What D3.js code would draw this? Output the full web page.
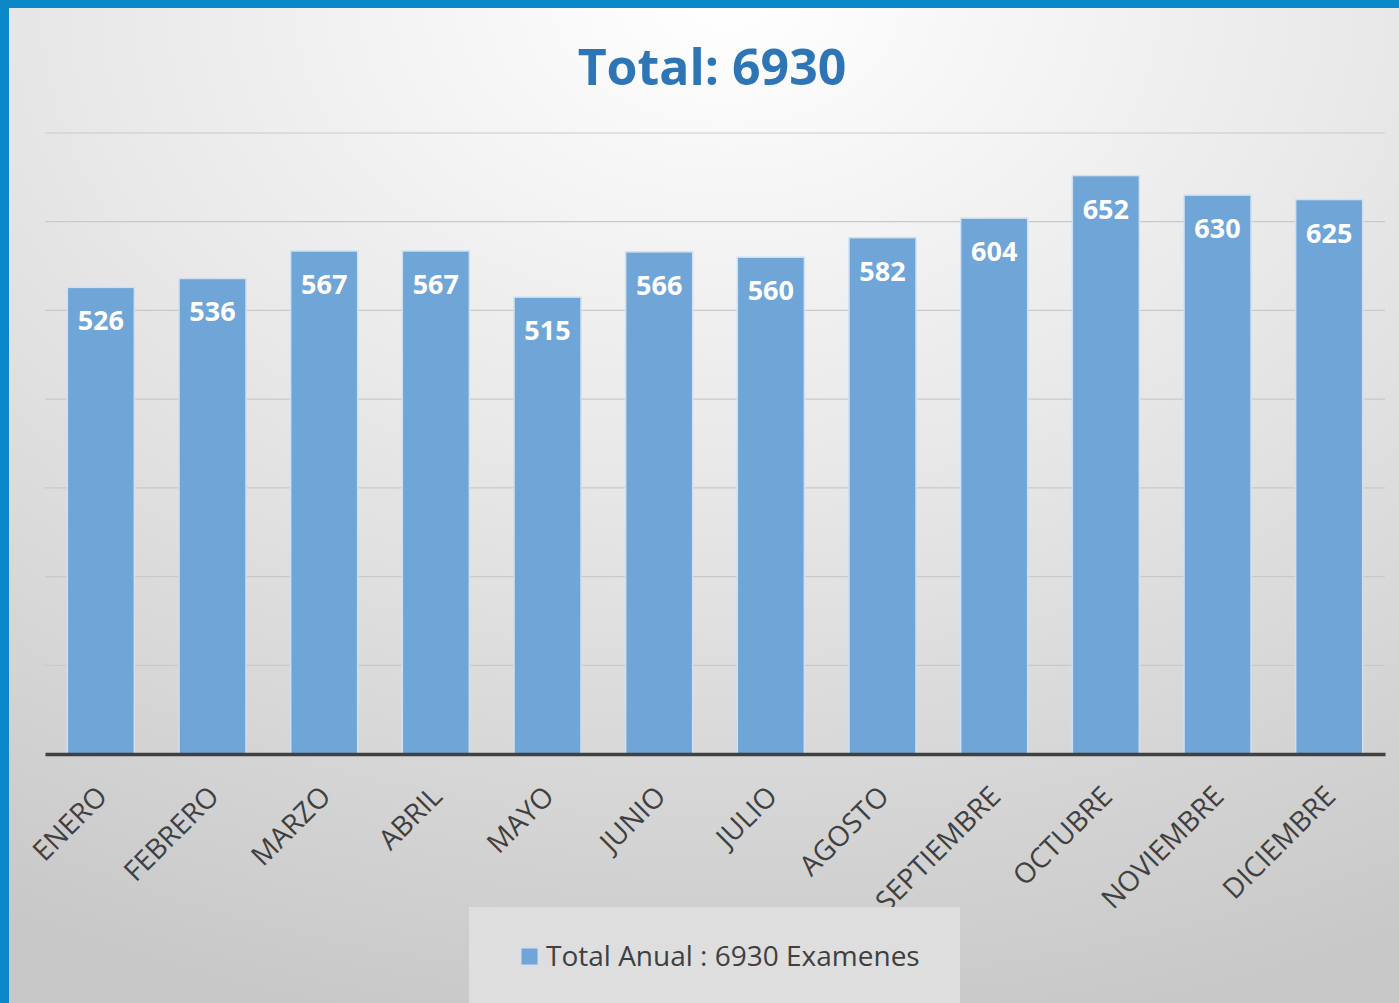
<!DOCTYPE html>
<html>
<head>
<meta charset="utf-8">
<script src="https://cdn.jsdelivr.net/npm/d3@7"></script>
<style>
  body { margin: 0; overflow: hidden; }
</style>
</head>
<body>
<div id="chart"></div>
<script>
// data
const months = ["ENERO", "FEBRERO", "MARZO", "ABRIL", "MAYO", "JUNIO", "JULIO",
  "AGOSTO", "SEPTIEMBRE", "OCTUBRE", "NOVIEMBRE", "DICIEMBRE"];
const values = [526, 536, 567, 567, 515, 566, 560, 582, 604, 652, 630, 625];
const yTicks = [0, 100, 200, 300, 400, 500, 600, 700];
const titleText = "Total: 6930";
const legendText = "Total Anual : 6930 Examenes";

const W = 1399, H = 1003;
const margin = {top: 133, right: 14, bottom: 249, left: 45};
const width = W - margin.left - margin.right,
      height = H - margin.top - margin.bottom;

const svg = d3.select("#chart").append("svg")
  .attr("width", W).attr("height", H)
  .style("font-family", "'Open Sans', sans-serif");

// background gradient
const defs = svg.append("defs");
const grad = defs.append("radialGradient")
  .attr("id", "bg").attr("cx", "0.52").attr("cy", "0")
  .attr("r", "1.05").attr("fx", "0.52").attr("fy", "0");
grad.append("stop").attr("offset", "0").attr("stop-color", "#ffffff");
grad.append("stop").attr("offset", "0.45").attr("stop-color", "#e8e8e8");
grad.append("stop").attr("offset", "1").attr("stop-color", "#c8c8c8");

svg.append("rect").attr("width", W).attr("height", H).attr("fill", "url(#bg)");

// blue frame top and left
svg.append("rect").attr("x", 0).attr("y", 0).attr("width", W).attr("height", 8).attr("fill", "#0a87c6");
svg.append("rect").attr("x", 0).attr("y", 0).attr("width", 9).attr("height", H).attr("fill", "#0a87c6");

const g = svg.append("g").attr("transform", `translate(${margin.left},${margin.top})`);

const x = d3.scaleBand().domain(months).range([0, width])
  .paddingInner(0.4).paddingOuter(0.2);
const y = d3.scaleLinear().domain([0, 700]).range([height, 0]);

// gridlines
g.append("g").selectAll("line")
  .data(yTicks.slice(1))
  .enter().append("line")
  .attr("x1", 0).attr("x2", width)
  .attr("y1", d => y(d)).attr("y2", d => y(d))
  .attr("stroke", "#c9c9c9").attr("stroke-width", 1.2);

// bars
g.append("g").selectAll("rect")
  .data(values)
  .enter().append("rect")
  .attr("x", (d, i) => x(months[i]))
  .attr("y", d => y(d))
  .attr("width", x.bandwidth())
  .attr("height", d => y(0) - y(d))
  .attr("fill", "#6fa5d7")
  .attr("stroke", "#cfe1f1").attr("stroke-width", 1.5);

// value labels inside bar top
g.append("g").selectAll("text")
  .data(values)
  .enter().append("text")
  .attr("x", (d, i) => x(months[i]) + x.bandwidth() / 2)
  .attr("y", d => y(d) + 43)
  .attr("text-anchor", "middle")
  .attr("fill", "#ffffff")
  .attr("font-weight", "bold")
  .attr("font-size", "27px")
  .text(d => d);

// x axis
const xAxis = g.append("g")
  .attr("transform", `translate(0,${height})`)
  .call(d3.axisBottom(x).tickSize(0).tickSizeOuter(0));
xAxis.select(".domain").attr("stroke", "#404040").attr("stroke-width", 3.5);
xAxis.selectAll("text")
  .attr("font-family", "'Open Sans', sans-serif")
  .attr("font-size", "28px")
  .attr("fill", "#404040")
  .attr("text-anchor", "end")
  .attr("dy", 0)
  .attr("transform", "translate(6,42) rotate(-45)");

// title
svg.append("text")
  .attr("x", 712).attr("y", 85)
  .attr("text-anchor", "middle")
  .attr("fill", "#2e75b6")
  .attr("font-weight", "bold")
  .attr("font-size", "50px")
  .text(titleText);

// legend
const leg = svg.append("g");
leg.append("rect").attr("x", 469).attr("y", 907).attr("width", 491).attr("height", 96)
  .attr("fill", "#dedede");
leg.append("rect").attr("x", 521).attr("y", 948).attr("width", 17).attr("height", 17)
  .attr("fill", "#6fa5d7").attr("stroke", "#cfe1f1");
leg.append("text").attr("x", 546).attr("y", 966)
  .attr("fill", "#404040").attr("font-size", "28px")
  .text(legendText);
</script>
</body>
</html>
